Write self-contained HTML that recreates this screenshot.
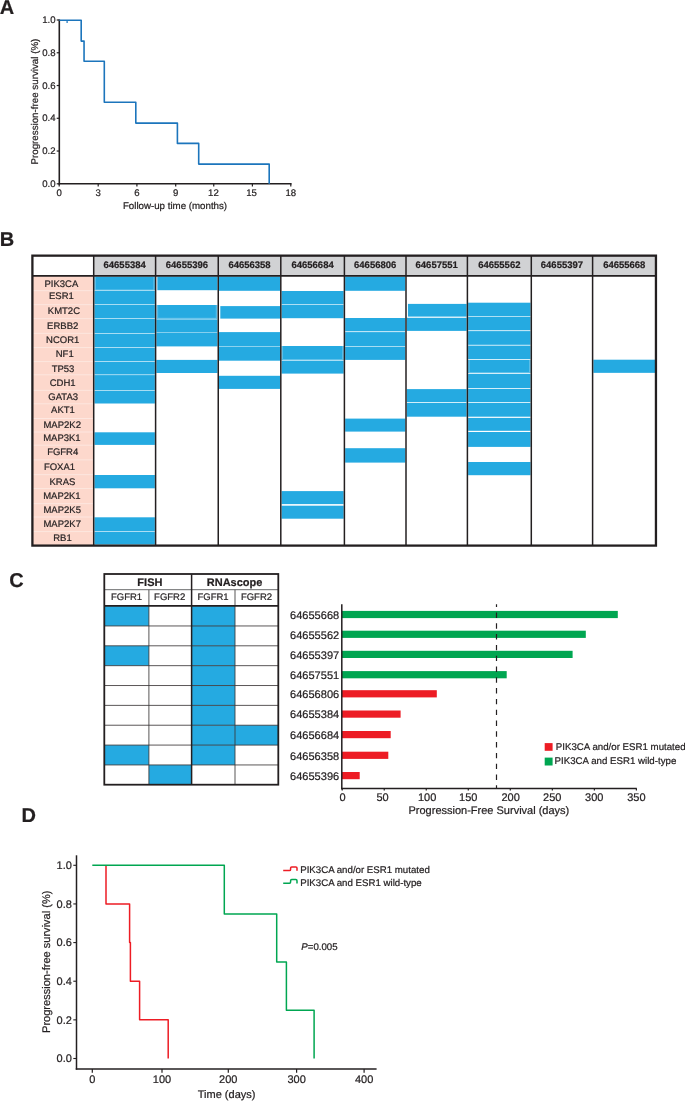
<!DOCTYPE html>
<html lang="en">
<head>
<meta charset="utf-8">
<title>Figure</title>
<style>
html,body{margin:0;padding:0;background:#fff;}
body{width:685px;height:1101px;overflow:hidden;}
svg{display:block;will-change:transform;text-rendering:geometricPrecision;font-family:"Liberation Sans",sans-serif;fill:#231f20;}
text{stroke:#231f20;stroke-width:0.22px;stroke-linejoin:round;}
</style>
</head>
<body>
<svg width="685" height="1101" viewBox="0 0 685 1101">
<rect x="0" y="0" width="685" height="1101" fill="#ffffff"/>
<text x="-0.20" y="13.60" font-size="20.0" text-anchor="start" font-weight="bold" >A</text>
<text x="-0.20" y="245.50" font-size="20.0" text-anchor="start" font-weight="bold" >B</text>
<text x="9.20" y="587.00" font-size="20.0" text-anchor="start" font-weight="bold" >C</text>
<text x="21.60" y="821.50" font-size="20.0" text-anchor="start" font-weight="bold" >D</text>
<line x1="59.30" y1="19.40" x2="59.30" y2="184.60" stroke="#231f20" stroke-width="1.6" />
<line x1="58.50" y1="183.80" x2="291.60" y2="183.80" stroke="#231f20" stroke-width="1.6" />
<line x1="56.70" y1="183.80" x2="59.30" y2="183.80" stroke="#231f20" stroke-width="1.2" />
<text x="55.50" y="187.10" font-size="9.6" text-anchor="end" font-weight="normal" >0.0</text>
<line x1="56.70" y1="151.04" x2="59.30" y2="151.04" stroke="#231f20" stroke-width="1.2" />
<text x="55.50" y="154.34" font-size="9.6" text-anchor="end" font-weight="normal" >0.2</text>
<line x1="56.70" y1="118.28" x2="59.30" y2="118.28" stroke="#231f20" stroke-width="1.2" />
<text x="55.50" y="121.28" font-size="9.6" text-anchor="end" font-weight="normal" >0.4</text>
<line x1="56.70" y1="85.52" x2="59.30" y2="85.52" stroke="#231f20" stroke-width="1.2" />
<text x="55.50" y="88.52" font-size="9.6" text-anchor="end" font-weight="normal" >0.6</text>
<line x1="56.70" y1="52.76" x2="59.30" y2="52.76" stroke="#231f20" stroke-width="1.2" />
<text x="55.50" y="55.76" font-size="9.6" text-anchor="end" font-weight="normal" >0.8</text>
<line x1="56.70" y1="20.00" x2="59.30" y2="20.00" stroke="#231f20" stroke-width="1.2" />
<text x="55.50" y="23.30" font-size="9.6" text-anchor="end" font-weight="normal" >1.0</text>
<line x1="59.20" y1="183.80" x2="59.20" y2="186.50" stroke="#231f20" stroke-width="1.2" />
<text x="59.20" y="196.30" font-size="9.6" text-anchor="middle" font-weight="normal" >0</text>
<line x1="98.20" y1="183.80" x2="98.20" y2="186.50" stroke="#231f20" stroke-width="1.2" />
<text x="98.20" y="196.30" font-size="9.6" text-anchor="middle" font-weight="normal" >3</text>
<line x1="136.90" y1="183.80" x2="136.90" y2="186.50" stroke="#231f20" stroke-width="1.2" />
<text x="136.90" y="196.30" font-size="9.6" text-anchor="middle" font-weight="normal" >6</text>
<line x1="175.70" y1="183.80" x2="175.70" y2="186.50" stroke="#231f20" stroke-width="1.2" />
<text x="175.70" y="196.30" font-size="9.6" text-anchor="middle" font-weight="normal" >9</text>
<line x1="213.75" y1="183.80" x2="213.75" y2="186.50" stroke="#231f20" stroke-width="1.2" />
<text x="213.45" y="196.30" font-size="9.6" text-anchor="middle" font-weight="normal" >12</text>
<line x1="252.40" y1="183.80" x2="252.40" y2="186.50" stroke="#231f20" stroke-width="1.2" />
<text x="251.50" y="196.30" font-size="9.6" text-anchor="middle" font-weight="normal" >15</text>
<line x1="290.80" y1="183.80" x2="290.80" y2="186.50" stroke="#231f20" stroke-width="1.2" />
<text x="290.80" y="196.30" font-size="9.6" text-anchor="middle" font-weight="normal" >18</text>
<text x="175.00" y="208.60" font-size="9.72" text-anchor="middle" font-weight="normal" >Follow-up time (months)</text>
<text transform="translate(37.6,101.6) rotate(-90)" font-size="9.78" text-anchor="middle">Progression-free survival (%)</text>
<path d="M59.30,20.30 L81.20,20.30 L81.20,41.10 L84.05,41.10 L84.05,61.30 L104.30,61.30 L104.30,102.20 L135.80,102.20 L135.80,123.10 L177.40,123.10 L177.40,143.40 L198.70,143.40 L198.70,164.10 L269.20,164.10 L269.20,183.80" fill="none" stroke="#1c75bc" stroke-width="1.6" stroke-linejoin="round"/>
<line x1="67.10" y1="20.30" x2="67.10" y2="22.90" stroke="#1c75bc" stroke-width="1.2" />
<rect x="93.70" y="255.65" width="562.25" height="20.15" fill="#d1d2d4" />
<rect x="32.40" y="275.80" width="61.30" height="269.80" fill="#fdd8cc" />
<line x1="32.40" y1="290.70" x2="93.70" y2="290.70" stroke="#feeee8" stroke-width="0.7" />
<line x1="32.40" y1="304.70" x2="93.70" y2="304.70" stroke="#feeee8" stroke-width="0.7" />
<line x1="32.40" y1="318.70" x2="93.70" y2="318.70" stroke="#feeee8" stroke-width="0.7" />
<line x1="32.40" y1="333.30" x2="93.70" y2="333.30" stroke="#feeee8" stroke-width="0.7" />
<line x1="32.40" y1="347.60" x2="93.70" y2="347.60" stroke="#feeee8" stroke-width="0.7" />
<line x1="32.40" y1="361.60" x2="93.70" y2="361.60" stroke="#feeee8" stroke-width="0.7" />
<line x1="32.40" y1="374.80" x2="93.70" y2="374.80" stroke="#feeee8" stroke-width="0.7" />
<line x1="32.40" y1="390.30" x2="93.70" y2="390.30" stroke="#feeee8" stroke-width="0.7" />
<line x1="32.40" y1="403.80" x2="93.70" y2="403.80" stroke="#feeee8" stroke-width="0.7" />
<line x1="32.40" y1="418.50" x2="93.70" y2="418.50" stroke="#feeee8" stroke-width="0.7" />
<line x1="32.40" y1="432.00" x2="93.70" y2="432.00" stroke="#feeee8" stroke-width="0.7" />
<line x1="32.40" y1="445.20" x2="93.70" y2="445.20" stroke="#feeee8" stroke-width="0.7" />
<line x1="32.40" y1="459.90" x2="93.70" y2="459.90" stroke="#feeee8" stroke-width="0.7" />
<line x1="32.40" y1="474.70" x2="93.70" y2="474.70" stroke="#feeee8" stroke-width="0.7" />
<line x1="32.40" y1="488.60" x2="93.70" y2="488.60" stroke="#feeee8" stroke-width="0.7" />
<line x1="32.40" y1="503.70" x2="93.70" y2="503.70" stroke="#feeee8" stroke-width="0.7" />
<line x1="32.40" y1="517.00" x2="93.70" y2="517.00" stroke="#feeee8" stroke-width="0.7" />
<line x1="32.40" y1="531.60" x2="93.70" y2="531.60" stroke="#feeee8" stroke-width="0.7" />
<rect x="94.45" y="276.60" width="60.40" height="13.80" fill="#25aae1" />
<rect x="94.45" y="291.00" width="60.40" height="13.40" fill="#25aae1" />
<rect x="94.45" y="305.00" width="60.40" height="13.40" fill="#25aae1" />
<rect x="94.45" y="319.00" width="60.40" height="14.00" fill="#25aae1" />
<rect x="94.45" y="333.60" width="60.40" height="13.70" fill="#25aae1" />
<rect x="94.45" y="347.90" width="60.40" height="13.40" fill="#25aae1" />
<rect x="94.45" y="361.90" width="60.40" height="12.60" fill="#25aae1" />
<rect x="94.45" y="375.10" width="60.40" height="14.90" fill="#25aae1" />
<rect x="94.45" y="390.60" width="60.40" height="12.90" fill="#25aae1" />
<rect x="94.45" y="432.30" width="60.40" height="12.60" fill="#25aae1" />
<rect x="94.45" y="475.00" width="60.40" height="13.30" fill="#25aae1" />
<rect x="94.45" y="517.30" width="60.40" height="14.00" fill="#25aae1" />
<rect x="94.45" y="531.90" width="60.40" height="12.60" fill="#25aae1" />
<rect x="157.35" y="276.50" width="60.15" height="13.70" fill="#25aae1" />
<rect x="156.65" y="305.00" width="60.65" height="13.80" fill="#25aae1" />
<path d="M157.65,305.00 V318.30 H216.30 V305.00" fill="none" stroke="#9bd7f1" stroke-width="0.5"/>
<rect x="156.35" y="319.40" width="61.15" height="13.10" fill="#25aae1" />
<rect x="156.35" y="332.90" width="61.15" height="13.50" fill="#25aae1" />
<rect x="156.35" y="359.90" width="61.15" height="13.10" fill="#25aae1" />
<rect x="219.00" y="276.50" width="61.05" height="14.30" fill="#25aae1" />
<rect x="220.30" y="306.10" width="59.75" height="12.50" fill="#25aae1" />
<rect x="219.00" y="332.10" width="61.05" height="14.30" fill="#25aae1" />
<rect x="219.00" y="346.80" width="61.05" height="13.90" fill="#25aae1" />
<rect x="219.00" y="375.80" width="61.05" height="13.10" fill="#25aae1" />
<rect x="281.55" y="291.00" width="62.10" height="13.10" fill="#25aae1" />
<rect x="281.55" y="304.70" width="62.10" height="13.50" fill="#25aae1" />
<rect x="281.55" y="346.00" width="62.10" height="14.30" fill="#25aae1" />
<rect x="281.55" y="360.90" width="62.10" height="12.70" fill="#25aae1" />
<rect x="281.55" y="491.10" width="62.10" height="13.00" fill="#25aae1" />
<rect x="281.55" y="505.70" width="62.10" height="13.00" fill="#25aae1" />
<rect x="345.15" y="276.50" width="60.10" height="14.30" fill="#25aae1" />
<rect x="345.15" y="318.00" width="60.10" height="13.30" fill="#25aae1" />
<rect x="345.15" y="332.10" width="60.10" height="14.30" fill="#25aae1" />
<rect x="345.15" y="347.00" width="60.10" height="12.90" fill="#25aae1" />
<rect x="345.15" y="418.60" width="60.10" height="13.00" fill="#25aae1" />
<rect x="345.15" y="448.20" width="60.10" height="14.40" fill="#25aae1" />
<rect x="407.95" y="303.90" width="58.70" height="12.70" fill="#25aae1" />
<rect x="406.75" y="317.80" width="59.90" height="13.10" fill="#25aae1" />
<rect x="406.75" y="389.10" width="59.90" height="12.90" fill="#25aae1" />
<rect x="406.75" y="402.80" width="59.90" height="13.90" fill="#25aae1" />
<rect x="468.15" y="302.70" width="62.40" height="13.50" fill="#25aae1" />
<rect x="468.15" y="316.80" width="62.40" height="13.50" fill="#25aae1" />
<rect x="468.15" y="331.10" width="62.40" height="13.70" fill="#25aae1" />
<rect x="468.15" y="345.60" width="62.40" height="13.50" fill="#25aae1" />
<rect x="468.15" y="359.90" width="62.40" height="13.30" fill="#25aae1" />
<rect x="468.15" y="374.00" width="62.40" height="14.10" fill="#25aae1" />
<rect x="468.15" y="388.90" width="62.40" height="13.10" fill="#25aae1" />
<rect x="468.15" y="402.80" width="62.40" height="13.90" fill="#25aae1" />
<rect x="468.15" y="417.90" width="62.40" height="12.90" fill="#25aae1" />
<rect x="468.15" y="432.00" width="62.40" height="14.90" fill="#25aae1" />
<rect x="468.15" y="462.00" width="62.40" height="13.20" fill="#25aae1" />
<rect x="593.35" y="359.70" width="61.85" height="13.15" fill="#25aae1" />
<path d="M95.45,276.60 V289.90 H153.85 V276.60" fill="none" stroke="#9bd7f1" stroke-width="0.5"/>
<path d="M282.55,346.00 V359.50 H342.65 V346.00" fill="none" stroke="#9bd7f1" stroke-width="0.5"/>
<path d="M469.15,359.90 V372.50 H529.55 V359.90" fill="none" stroke="#9bd7f1" stroke-width="0.5"/>
<line x1="93.70" y1="255.65" x2="93.70" y2="545.60" stroke="#231f20" stroke-width="1.5" />
<line x1="155.60" y1="255.65" x2="155.60" y2="545.60" stroke="#231f20" stroke-width="1.5" />
<line x1="218.25" y1="255.65" x2="218.25" y2="545.60" stroke="#231f20" stroke-width="1.5" />
<line x1="280.80" y1="255.65" x2="280.80" y2="545.60" stroke="#231f20" stroke-width="1.5" />
<line x1="344.40" y1="255.65" x2="344.40" y2="545.60" stroke="#231f20" stroke-width="1.5" />
<line x1="406.00" y1="255.65" x2="406.00" y2="545.60" stroke="#231f20" stroke-width="1.5" />
<line x1="467.40" y1="255.65" x2="467.40" y2="545.60" stroke="#231f20" stroke-width="1.5" />
<line x1="531.30" y1="255.65" x2="531.30" y2="545.60" stroke="#231f20" stroke-width="1.5" />
<line x1="592.60" y1="255.65" x2="592.60" y2="545.60" stroke="#231f20" stroke-width="1.5" />
<line x1="32.40" y1="275.80" x2="655.95" y2="275.80" stroke="#231f20" stroke-width="1.8" />
<rect x="32.40" y="255.65" width="623.55" height="289.95" fill="none" stroke="#231f20" stroke-width="2.3"/>
<text x="124.65" y="268.10" font-size="9.5" text-anchor="middle" font-weight="bold" >64655384</text>
<text x="186.93" y="268.10" font-size="9.5" text-anchor="middle" font-weight="bold" >64655396</text>
<text x="249.53" y="268.10" font-size="9.5" text-anchor="middle" font-weight="bold" >64656358</text>
<text x="312.60" y="268.10" font-size="9.5" text-anchor="middle" font-weight="bold" >64656684</text>
<text x="375.20" y="268.10" font-size="9.5" text-anchor="middle" font-weight="bold" >64656806</text>
<text x="436.70" y="268.10" font-size="9.5" text-anchor="middle" font-weight="bold" >64657551</text>
<text x="499.35" y="268.10" font-size="9.5" text-anchor="middle" font-weight="bold" >64655562</text>
<text x="561.95" y="268.10" font-size="9.5" text-anchor="middle" font-weight="bold" >64655397</text>
<text x="624.28" y="268.10" font-size="9.5" text-anchor="middle" font-weight="bold" >64655668</text>
<text x="61.40" y="287.20" font-size="9.5" text-anchor="middle" font-weight="normal" >PIK3CA</text>
<text x="61.40" y="298.60" font-size="9.5" text-anchor="middle" font-weight="normal" >ESR1</text>
<text x="63.90" y="314.30" font-size="9.5" text-anchor="middle" font-weight="normal" >KMT2C</text>
<text x="62.70" y="329.00" font-size="9.5" text-anchor="middle" font-weight="normal" >ERBB2</text>
<text x="62.70" y="343.10" font-size="9.5" text-anchor="middle" font-weight="normal" >NCOR1</text>
<text x="64.70" y="357.20" font-size="9.5" text-anchor="middle" font-weight="normal" >NF1</text>
<text x="63.00" y="372.00" font-size="9.5" text-anchor="middle" font-weight="normal" >TP53</text>
<text x="62.70" y="386.30" font-size="9.5" text-anchor="middle" font-weight="normal" >CDH1</text>
<text x="63.20" y="400.20" font-size="9.5" text-anchor="middle" font-weight="normal" >GATA3</text>
<text x="63.00" y="413.20" font-size="9.5" text-anchor="middle" font-weight="normal" >AKT1</text>
<text x="62.20" y="428.30" font-size="9.5" text-anchor="middle" font-weight="normal" >MAP2K2</text>
<text x="61.90" y="441.10" font-size="9.5" text-anchor="middle" font-weight="normal" >MAP3K1</text>
<text x="62.70" y="455.10" font-size="9.5" text-anchor="middle" font-weight="normal" >FGFR4</text>
<text x="59.50" y="470.40" font-size="9.5" text-anchor="middle" font-weight="normal" >FOXA1</text>
<text x="62.40" y="484.60" font-size="9.5" text-anchor="middle" font-weight="normal" >KRAS</text>
<text x="61.90" y="499.30" font-size="9.5" text-anchor="middle" font-weight="normal" >MAP2K1</text>
<text x="62.20" y="513.10" font-size="9.5" text-anchor="middle" font-weight="normal" >MAP2K5</text>
<text x="62.20" y="527.40" font-size="9.5" text-anchor="middle" font-weight="normal" >MAP2K7</text>
<text x="62.50" y="541.30" font-size="9.5" text-anchor="middle" font-weight="normal" >RB1</text>
<rect x="104.60" y="606.10" width="44.30" height="19.86" fill="#25aae1" />
<rect x="191.60" y="606.10" width="43.40" height="19.86" fill="#25aae1" />
<rect x="191.60" y="625.96" width="43.40" height="19.86" fill="#25aae1" />
<rect x="104.60" y="645.81" width="44.30" height="19.86" fill="#25aae1" />
<rect x="191.60" y="645.81" width="43.40" height="19.86" fill="#25aae1" />
<rect x="191.60" y="665.67" width="43.40" height="19.86" fill="#25aae1" />
<rect x="191.60" y="685.52" width="43.40" height="19.86" fill="#25aae1" />
<rect x="191.60" y="705.38" width="43.40" height="19.86" fill="#25aae1" />
<rect x="191.60" y="725.23" width="43.40" height="19.86" fill="#25aae1" />
<rect x="235.00" y="725.23" width="43.40" height="19.86" fill="#25aae1" />
<rect x="104.60" y="745.09" width="44.30" height="19.86" fill="#25aae1" />
<rect x="191.60" y="745.09" width="43.40" height="19.86" fill="#25aae1" />
<rect x="148.90" y="764.94" width="42.70" height="19.86" fill="#25aae1" />
<line x1="104.60" y1="625.96" x2="278.40" y2="625.96" stroke="#3d393a" stroke-width="0.85" />
<line x1="104.60" y1="645.81" x2="278.40" y2="645.81" stroke="#3d393a" stroke-width="0.85" />
<line x1="104.60" y1="665.67" x2="278.40" y2="665.67" stroke="#3d393a" stroke-width="0.85" />
<line x1="104.60" y1="685.52" x2="278.40" y2="685.52" stroke="#3d393a" stroke-width="0.85" />
<line x1="104.60" y1="705.38" x2="278.40" y2="705.38" stroke="#3d393a" stroke-width="0.85" />
<line x1="104.60" y1="725.23" x2="278.40" y2="725.23" stroke="#3d393a" stroke-width="0.85" />
<line x1="104.60" y1="745.09" x2="278.40" y2="745.09" stroke="#3d393a" stroke-width="0.85" />
<line x1="104.60" y1="764.94" x2="278.40" y2="764.94" stroke="#3d393a" stroke-width="0.85" />
<line x1="148.90" y1="589.70" x2="148.90" y2="784.80" stroke="#3a3637" stroke-width="0.85" />
<line x1="235.00" y1="589.70" x2="235.00" y2="784.80" stroke="#3a3637" stroke-width="0.85" />
<line x1="104.60" y1="589.70" x2="278.40" y2="589.70" stroke="#58595b" stroke-width="0.9" />
<line x1="104.60" y1="605.90" x2="278.40" y2="605.90" stroke="#231f20" stroke-width="1.6" />
<line x1="191.60" y1="574.30" x2="191.60" y2="784.80" stroke="#231f20" stroke-width="1.5" />
<rect x="104.3" y="574.0" width="174.00" height="210.70" fill="none" stroke="#231f20" stroke-width="1.8"/>
<text x="149.90" y="586.00" font-size="11" text-anchor="middle" font-weight="bold" >FISH</text>
<text x="234.60" y="586.00" font-size="11" text-anchor="middle" font-weight="bold" >RNAscope</text>
<text x="126.55" y="600.20" font-size="9.5" text-anchor="middle" font-weight="normal" >FGFR1</text>
<text x="169.65" y="600.20" font-size="9.5" text-anchor="middle" font-weight="normal" >FGFR2</text>
<text x="213.10" y="600.20" font-size="9.5" text-anchor="middle" font-weight="normal" >FGFR1</text>
<text x="256.50" y="600.20" font-size="9.5" text-anchor="middle" font-weight="normal" >FGFR2</text>
<rect x="341.80" y="610.90" width="276.00" height="7.20" fill="#00a651" />
<text x="339.20" y="618.70" font-size="11.05" text-anchor="end" font-weight="normal" >64655668</text>
<rect x="341.80" y="630.70" width="244.00" height="7.20" fill="#00a651" />
<text x="339.20" y="638.50" font-size="11.05" text-anchor="end" font-weight="normal" >64655562</text>
<rect x="341.80" y="650.80" width="230.80" height="7.20" fill="#00a651" />
<text x="339.20" y="658.60" font-size="11.05" text-anchor="end" font-weight="normal" >64655397</text>
<rect x="341.80" y="671.10" width="164.90" height="7.20" fill="#00a651" />
<text x="339.20" y="678.90" font-size="11.05" text-anchor="end" font-weight="normal" >64657551</text>
<rect x="341.80" y="690.20" width="95.00" height="7.20" fill="#ed1c24" />
<text x="339.20" y="698.00" font-size="11.05" text-anchor="end" font-weight="normal" >64656806</text>
<rect x="341.80" y="710.50" width="58.80" height="7.20" fill="#ed1c24" />
<text x="339.20" y="718.30" font-size="11.05" text-anchor="end" font-weight="normal" >64655384</text>
<rect x="341.80" y="731.00" width="48.90" height="7.20" fill="#ed1c24" />
<text x="339.20" y="738.80" font-size="11.05" text-anchor="end" font-weight="normal" >64656684</text>
<rect x="341.80" y="751.70" width="46.50" height="7.20" fill="#ed1c24" />
<text x="339.20" y="759.50" font-size="11.05" text-anchor="end" font-weight="normal" >64656358</text>
<rect x="341.80" y="772.00" width="17.90" height="7.20" fill="#ed1c24" />
<text x="339.20" y="779.80" font-size="11.05" text-anchor="end" font-weight="normal" >64655396</text>
<line x1="496.50" y1="604.20" x2="496.50" y2="788.00" stroke="#231f20" stroke-width="1.2" stroke-dasharray="5.4 5.4" stroke-dashoffset="2.5"/>
<line x1="341.80" y1="604.30" x2="341.80" y2="789.30" stroke="#231f20" stroke-width="1.5" />
<line x1="341.05" y1="788.60" x2="636.80" y2="788.60" stroke="#231f20" stroke-width="1.5" />
<line x1="342.20" y1="788.60" x2="342.20" y2="790.50" stroke="#231f20" stroke-width="1.2" />
<text x="342.50" y="801.20" font-size="11" text-anchor="middle" font-weight="normal" >0</text>
<line x1="384.23" y1="788.60" x2="384.23" y2="790.50" stroke="#231f20" stroke-width="1.2" />
<text x="382.50" y="801.20" font-size="11" text-anchor="middle" font-weight="normal" >50</text>
<line x1="426.26" y1="788.60" x2="426.26" y2="790.50" stroke="#231f20" stroke-width="1.2" />
<text x="427.10" y="801.20" font-size="11" text-anchor="middle" font-weight="normal" >100</text>
<line x1="468.29" y1="788.60" x2="468.29" y2="790.50" stroke="#231f20" stroke-width="1.2" />
<text x="468.30" y="801.20" font-size="11" text-anchor="middle" font-weight="normal" >150</text>
<line x1="510.31" y1="788.60" x2="510.31" y2="790.50" stroke="#231f20" stroke-width="1.2" />
<text x="510.60" y="801.20" font-size="11" text-anchor="middle" font-weight="normal" >200</text>
<line x1="552.34" y1="788.60" x2="552.34" y2="790.50" stroke="#231f20" stroke-width="1.2" />
<text x="552.20" y="801.20" font-size="11" text-anchor="middle" font-weight="normal" >250</text>
<line x1="594.37" y1="788.60" x2="594.37" y2="790.50" stroke="#231f20" stroke-width="1.2" />
<text x="594.30" y="801.20" font-size="11" text-anchor="middle" font-weight="normal" >300</text>
<line x1="636.40" y1="788.60" x2="636.40" y2="790.50" stroke="#231f20" stroke-width="1.2" />
<text x="636.40" y="801.20" font-size="11" text-anchor="middle" font-weight="normal" >350</text>
<text x="488.90" y="814.00" font-size="11" text-anchor="middle" font-weight="normal" >Progression-Free Survival (days)</text>
<rect x="544.70" y="743.10" width="7.90" height="7.70" fill="#ed1c24" />
<rect x="544.70" y="757.60" width="7.90" height="7.90" fill="#00a651" />
<text x="555.80" y="749.90" font-size="9.7" text-anchor="start" font-weight="normal" >PIK3CA and/or ESR1 mutated</text>
<text x="554.60" y="764.10" font-size="9.7" text-anchor="start" font-weight="normal" >PIK3CA and ESR1 wild-type</text>
<line x1="76.50" y1="855.30" x2="76.50" y2="1069.65" stroke="#231f20" stroke-width="1.5" />
<line x1="75.75" y1="1068.90" x2="376.60" y2="1068.90" stroke="#231f20" stroke-width="1.5" />
<line x1="73.30" y1="1058.50" x2="76.50" y2="1058.50" stroke="#231f20" stroke-width="1.1" />
<text x="71.90" y="1062.40" font-size="11" text-anchor="end" font-weight="normal" >0.0</text>
<line x1="73.30" y1="1019.86" x2="76.50" y2="1019.86" stroke="#231f20" stroke-width="1.1" />
<text x="71.90" y="1023.76" font-size="11" text-anchor="end" font-weight="normal" >0.2</text>
<line x1="73.30" y1="981.22" x2="76.50" y2="981.22" stroke="#231f20" stroke-width="1.1" />
<text x="71.90" y="985.12" font-size="11" text-anchor="end" font-weight="normal" >0.4</text>
<line x1="73.30" y1="942.58" x2="76.50" y2="942.58" stroke="#231f20" stroke-width="1.1" />
<text x="71.90" y="946.48" font-size="11" text-anchor="end" font-weight="normal" >0.6</text>
<line x1="73.30" y1="903.94" x2="76.50" y2="903.94" stroke="#231f20" stroke-width="1.1" />
<text x="71.90" y="907.84" font-size="11" text-anchor="end" font-weight="normal" >0.8</text>
<line x1="73.30" y1="865.30" x2="76.50" y2="865.30" stroke="#231f20" stroke-width="1.1" />
<text x="71.90" y="869.20" font-size="11" text-anchor="end" font-weight="normal" >1.0</text>
<line x1="92.30" y1="1068.90" x2="92.30" y2="1072.70" stroke="#231f20" stroke-width="1.2" />
<text x="92.30" y="1083.30" font-size="11" text-anchor="middle" font-weight="normal" >0</text>
<line x1="162.00" y1="1068.90" x2="162.00" y2="1072.70" stroke="#231f20" stroke-width="1.2" />
<text x="162.00" y="1083.30" font-size="11" text-anchor="middle" font-weight="normal" >100</text>
<line x1="228.30" y1="1068.90" x2="228.30" y2="1072.70" stroke="#231f20" stroke-width="1.2" />
<text x="228.30" y="1083.30" font-size="11" text-anchor="middle" font-weight="normal" >200</text>
<line x1="296.60" y1="1068.90" x2="296.60" y2="1072.70" stroke="#231f20" stroke-width="1.2" />
<text x="296.60" y="1083.30" font-size="11" text-anchor="middle" font-weight="normal" >300</text>
<line x1="364.10" y1="1068.90" x2="364.10" y2="1072.70" stroke="#231f20" stroke-width="1.2" />
<text x="364.10" y="1083.30" font-size="11" text-anchor="middle" font-weight="normal" >400</text>
<text x="226.60" y="1098.00" font-size="11" text-anchor="middle" font-weight="normal" >Time (days)</text>
<text transform="translate(50.1,961.75) rotate(-90)" font-size="11.05" text-anchor="middle">Progression-free survival (%)</text>
<path d="M106.00,865.30 L106.00,903.94 L129.60,903.94 L129.60,942.58 L130.40,942.58 L130.40,981.22 L139.60,981.22 L139.60,1019.86 L168.20,1019.86 L168.20,1058.50" fill="none" stroke="#ed1c24" stroke-width="1.5" stroke-linejoin="round"/>
<path d="M92.30,865.30 L224.30,865.30 L224.30,914.00 L276.70,914.00 L276.70,961.90 L286.40,961.90 L286.40,1010.20 L314.10,1010.20 L314.10,1058.50" fill="none" stroke="#00a651" stroke-width="1.5" stroke-linejoin="round"/>
<path d="M283.2,870.50 H289.5 Q290.6,870.50 290.6,869.40 V868.00 Q290.6,866.90 291.7,866.90 H295.9 Q297.0,866.90 297.0,868.00 V870.70" fill="none" stroke="#ed1c24" stroke-width="1.5"/>
<path d="M283.2,883.20 H289.5 Q290.6,883.20 290.6,882.10 V880.70 Q290.6,879.60 291.7,879.60 H295.9 Q297.0,879.60 297.0,880.70 V883.40" fill="none" stroke="#00a651" stroke-width="1.5"/>
<text x="300.20" y="872.90" font-size="9.68" text-anchor="start" font-weight="normal" >PIK3CA and/or ESR1 mutated</text>
<text x="300.20" y="886.00" font-size="9.68" text-anchor="start" font-weight="normal" >PIK3CA and ESR1 wild-type</text>
<text x="301.3" y="950.0" font-size="9.67"><tspan font-style="italic">P</tspan>=0.005</text>
</svg>
</body>
</html>
